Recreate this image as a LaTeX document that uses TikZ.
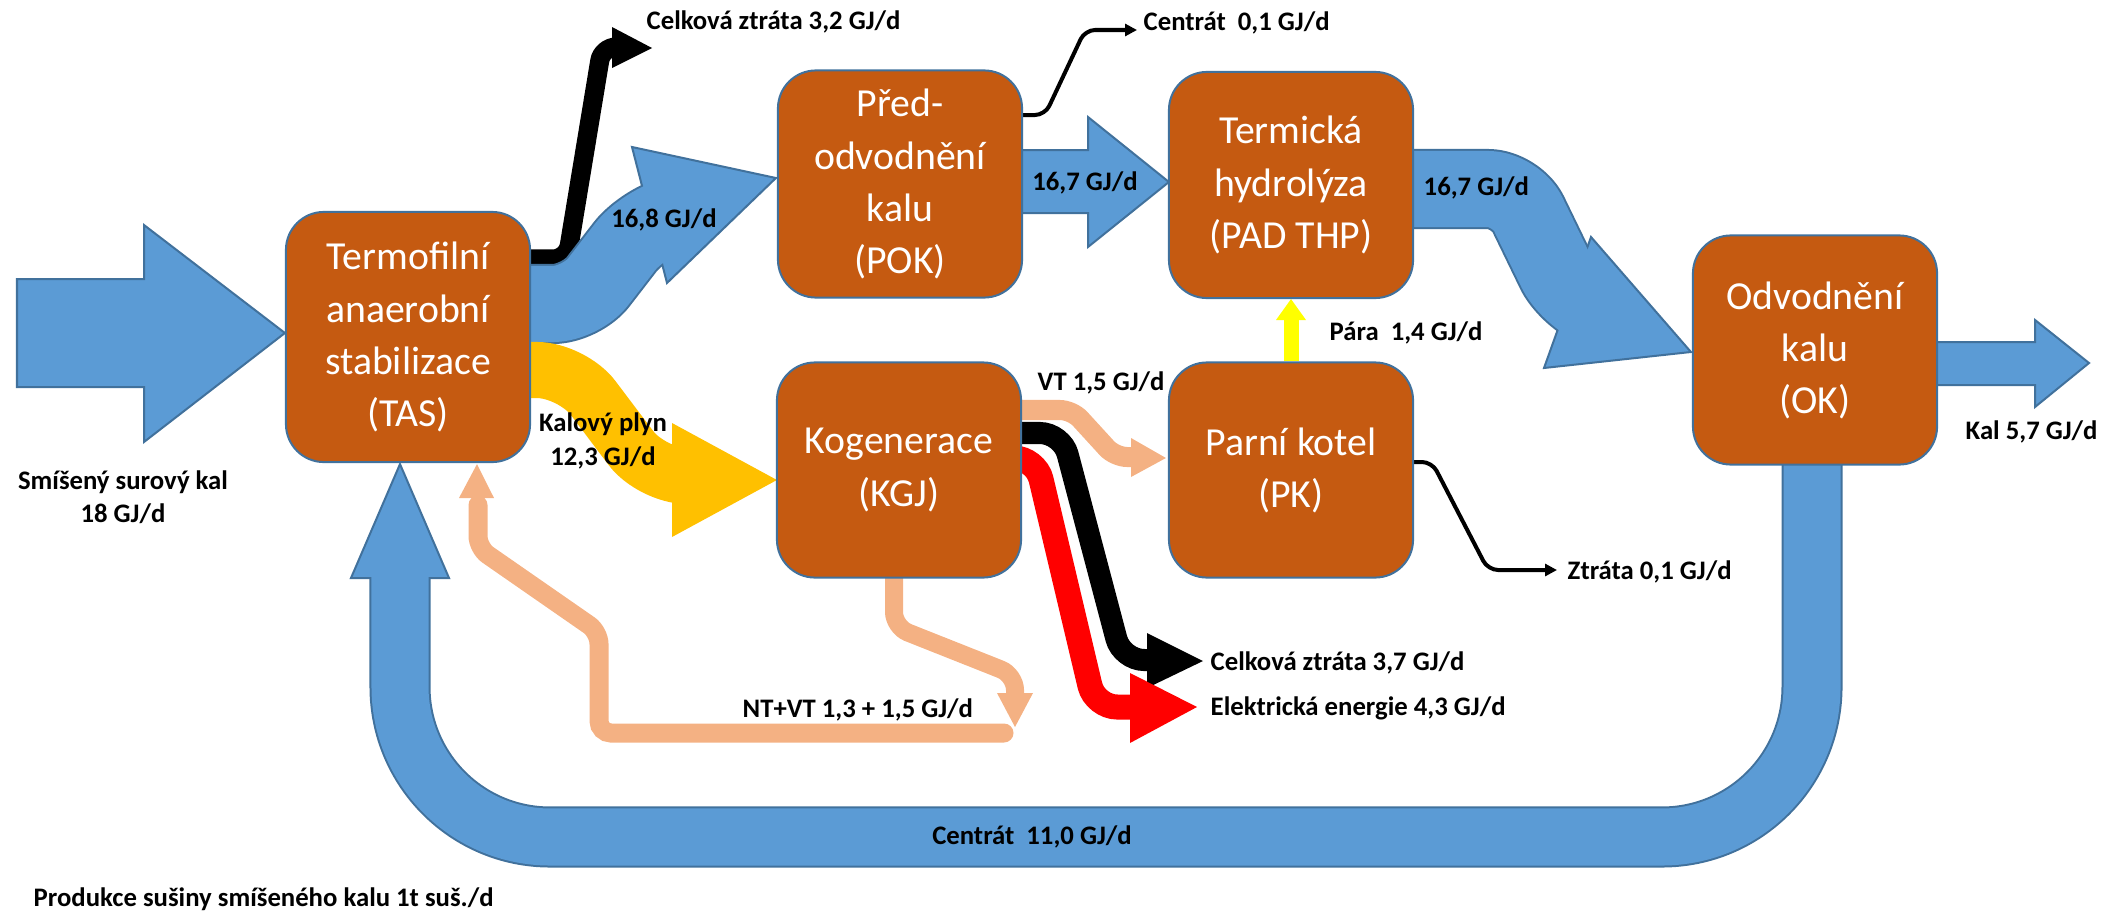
\documentclass[tikz,border=0pt]{standalone}
\usepackage{fontspec}
\setmainfont{Carlito}
\usetikzlibrary{calc,backgrounds,arrows.meta}
\definecolor{boxc}{HTML}{C55A11}
\definecolor{bfill}{HTML}{5B9BD5}
\definecolor{bline}{HTML}{41719C}
\definecolor{gas}{HTML}{FFC000}
\definecolor{heat}{HTML}{F4B183}
\definecolor{steam}{HTML}{FFFF00}
\newcommand{\bandarrow}[5]{% #1 outer width, #2 inner width, #3 radius, #4 path, #5 head
  \draw[bline, line width=#1, rounded corners=#3, line join=round] #4;
  \filldraw[fill=bfill, draw=bline, line width=0.02cm] #5;
  \draw[bfill, line width=#2, rounded corners=#3, line join=round] #4;}
\begin{document}
\begin{tikzpicture}[x=0.01cm,y=-0.01cm,
  proc/.style={draw=bline, line width=0.02cm, fill=boxc, rounded corners=0.38cm,
    text=white, align=center, font=\fontsize{11.3}{14.8}\selectfont, inner sep=0pt,
    minimum width=2.44cm},
  lab/.style={font=\bfseries\fontsize{7.6}{9.5}\selectfont, inner sep=0pt, align=center},
  bluepoly/.style={fill=bfill, draw=bline, line width=0.02cm},
  thinloss/.style={line width=0.04cm, rounded corners=0.1cm, -{Triangle[length=0.12cm,width=0.12cm]}}
]
\useasboundingbox (0,0) rectangle (2112,912);

% process boxes
\node[proc, minimum height=2.50cm] (TAS) at (408,337) {Termofilní\\anaerobní\\stabilizace\\(TAS)};
\node[proc, minimum height=2.27cm] (POK) at (900,184) {Před-\\odvodnění\\kalu\\(POK)};
\node[proc, minimum height=2.26cm] (THP) at (1291,185) {Termická\\hydrolýza\\(PAD THP)};
\node[proc, minimum height=2.15cm] (KGJ) at (899,470) {Kogenerace\\(KGJ)};
\node[proc, minimum height=2.15cm] (PK) at (1291,470) {Parní kotel\\(PK)};
\node[proc, minimum height=2.29cm] (OK) at (1815,350) {Odvodnění\\kalu\\(OK)};

\begin{scope}[on background layer]
% input
\coordinate (tin) at ($(TAS.west)+(0,-4)$);
\filldraw[bluepoly] (tin) -- (144,225) -- (144,279) -- (17,279) -- (17,387) -- (144,387) -- (144,442) -- cycle;
% output
\filldraw[bluepoly] ($(OK.east)+(-5,-8)$) -- (2035,342) -- (2035,320) -- (2089,363) -- (2035,407) -- (2035,385) -- ($(OK.east)+(-5,35)$) -- cycle;
% POK -> THP
\filldraw[bluepoly] ($(POK.east)+(-5,-34)$) -- (1088,150) -- (1088,117) -- ($(THP.west)+(1,-3)$) -- (1088,247) -- (1088,213) -- ($(POK.east)+(-5,29)$) -- cycle;
% black loss from TAS
\draw[black, line width=0.19cm, rounded corners=0.14cm] ($(TAS.east)+(-10,-78)$) -- (567,259) -- (602,47) -- (625,47);
\coordinate (loss1) at (652,48);
\fill[black] (612,27) -- (loss1) -- (612,68) -- cycle;
% TAS -> POK (16,8)
\bandarrow{0.80cm}{0.76cm}{0.28cm}{($(TAS.east)+(-10,-33)$) -- (581,304) -- (642,225) -- (680,214)}{(632,147) -- ($(POK.west)+(-1,-6)$) -- (667,283) -- cycle}
% yellow gas TAS -> KGJ
\draw[gas, line width=0.56cm, rounded corners=0.35cm] ($(TAS.east)+(-10,33)$) -- (572,370) -- (652,476) -- (690,476);
\fill[gas] (672,423) -- ($(KGJ.west)+(1,10)$) -- (672,537) -- cycle;
% THP -> OK
\bandarrow{0.80cm}{0.76cm}{0.28cm}{($(THP.east)+(-10,4)$) -- (1516,189) -- (1568,296) -- (1600,309)}{(1591,237) -- ($(OK.west)+(-1,2)$) -- (1544,368) -- cycle}
% Centrat 0,1
\draw[thinloss] ($(POK.east)+(-5,-69)$) -- (1045,115) -- (1085,30) -- (1137,30);
% PK loss
\draw[thinloss] ($(PK.east)+(-5,-8)$) -- (1432,462) -- (1488,570) -- (1557,570);
% steam PK -> THP
\draw[steam, line width=0.15cm] (PK.north) -- (1291,318);
\fill[steam] (1276,320) -- (THP.south) -- (1306,320) -- cycle;
% VT heat KGJ -> PK
\draw[heat, line width=0.20cm, rounded corners=0.12cm] ($(KGJ.east)+(-20,-60)$) -- (1072,410) -- (1115,457) -- (1140,457);
\fill[heat] (1131,438) -- ($(PK.west)+(-2,-12)$) -- (1131,477) -- cycle;
% black loss KGJ
\draw[black, line width=0.22cm, rounded corners=0.22cm] ($(KGJ.east)+(-20,-37)$) -- (1062,433) -- (1122,660) -- (1160,660);
\coordinate (loss2) at (1203,661);
\fill[black] (1147,633) -- (loss2) -- (1147,688) -- cycle;
% red electricity
\draw[red, line width=0.25cm, rounded corners=0.22cm] ($(KGJ.east)+(-20,-12)$) -- (1036,458) -- (1095,707) -- (1145,707);
\coordinate (elec) at (1197,707);
\fill[red] (1130,673) -- (elec) -- (1130,743) -- cycle;
% heat KGJ down
\draw[heat, line width=0.18cm, rounded corners=0.15cm] ($(KGJ.south)+(-5,-10)$) -- (894,627) -- (1015,675) -- (1015,700);
\coordinate (hjoin) at (1015,727);
\fill[heat] (997,693) -- (hjoin) -- (1033,693) -- cycle;
% heat return to TAS
\draw[heat, line width=0.19cm, rounded corners=0.12cm, line cap=round] (1004,733) -- (599,733) -- (599,632) -- (478,548) -- (478,505);
\fill[heat] (459,498) -- ($(TAS.south)+(69,1)$) -- (494,498) -- cycle;
% centrate loop OK -> TAS
\bandarrow{0.61cm}{0.57cm}{1.5cm}{($(OK.south)+(-3,-10)$) -- (1812,837) -- (400,837) -- (400,572)}{(351,578) -- ($(TAS.south)+(-8,1)$) -- (449,578) -- cycle}
\end{scope}

% labels
\node[lab, anchor=west] (l32) at (646,22) {Celková ztráta 3,2 GJ/d};
\node[lab, anchor=west] (lc01) at (1143,23) {Centrát\ \ 0,1 GJ/d};
\node[lab] (l168) at (664,220) {16,8 GJ/d};
\node[lab] (l167a) at (1085,183) {16,7 GJ/d};
\node[lab, anchor=west] (l167b) at (1423,188) {16,7 GJ/d};
\node[lab, anchor=west] (lpara) at (1329,333) {Pára\ \ 1,4 GJ/d};
\node[lab, anchor=west] (lvt) at (1037,383) {VT 1,5 GJ/d};
\node[lab] (lgas) at (603,441) {Kalový plyn\\12,3 GJ/d};
\node[lab] (lin) at (123,497) {Smíšený surový kal\\18 GJ/d};
\node[lab, anchor=west] (lkal) at (1965,432) {Kal 5,7 GJ/d};
\node[lab, anchor=west] (lz01) at (1567,572) {Ztráta 0,1 GJ/d};
\node[lab, anchor=west] (l37) at (1210,663) {Celková ztráta 3,7 GJ/d};
\node[lab, anchor=west] (lel) at (1210,708) {Elektrická energie 4,3 GJ/d};
\node[lab, anchor=west] (lnt) at (742,710) {NT+VT 1,3 + 1,5 GJ/d};
\node[lab] (lc11) at (1032,837) {Centrát\ \ 11,0 GJ/d};
\node[lab, anchor=west] (lprod) at (33,899) {Produkce sušiny smíšeného kalu 1t suš./d};
\end{tikzpicture}
\end{document}
